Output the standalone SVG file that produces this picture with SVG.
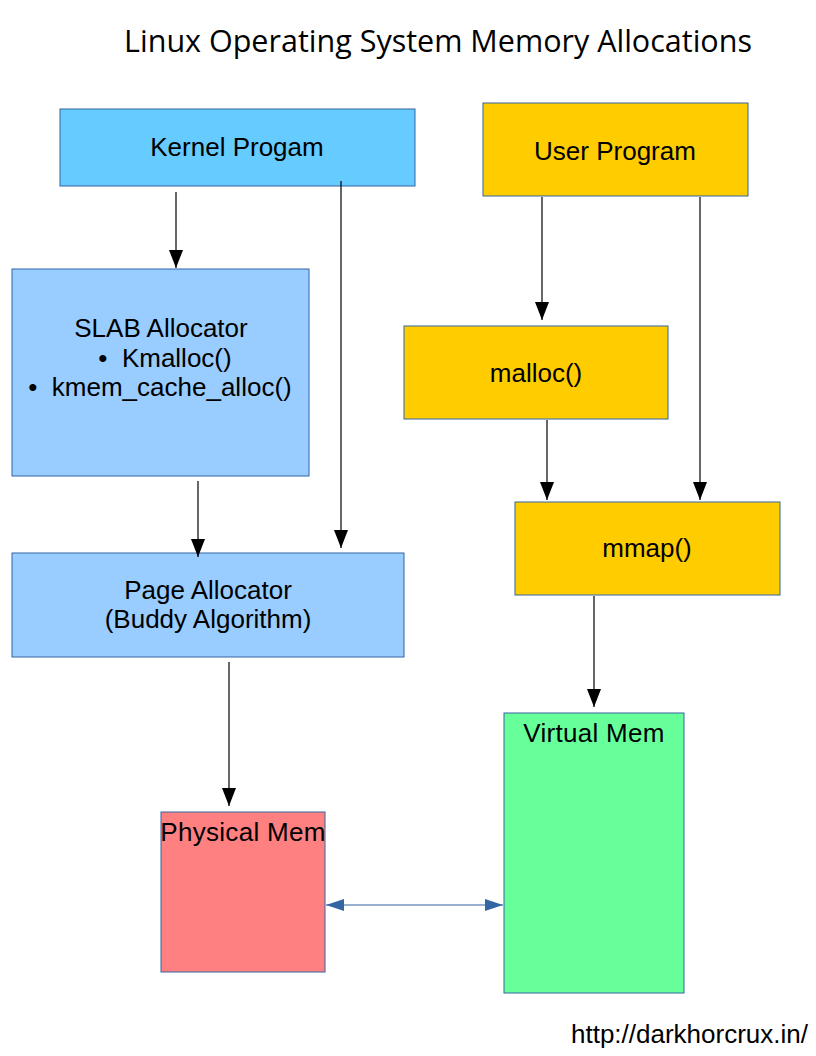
<svg xmlns="http://www.w3.org/2000/svg" width="816" height="1056" viewBox="0 0 816 1056" font-family="'Liberation Sans', Arial, sans-serif">
<style>
.t{font-family:'Liberation Sans', Arial, sans-serif;font-size:26px;fill:#000;text-anchor:middle}
.box{stroke:#3465a4;stroke-width:1}
.c{stroke:#000;stroke-width:1.2;fill:none}
</style>
<defs>
<marker id="ah" markerUnits="userSpaceOnUse" markerWidth="18" markerHeight="14" viewBox="0 0 18 14" refX="18" refY="7" orient="auto">
<path d="M0,0 L18,7 L0,14 Z" fill="#000"/>
</marker>
<marker id="bh" markerUnits="userSpaceOnUse" markerWidth="18" markerHeight="12" viewBox="0 0 18 12" refX="18" refY="6" orient="auto-start-reverse">
<path d="M0,0 L18,6 L0,12 Z" fill="#3465a4"/>
</marker>
</defs>
<rect width="816" height="1056" fill="#fff"/>
<text x="438" y="52" font-family="'Open Sans', Lato, sans-serif" font-size="30.5" text-anchor="middle">Linux Operating System Memory Allocations</text>
<g id="kernel"><rect class="box" x="60" y="109" width="355" height="77" fill="#66ccff"/><text class="t" font-family="'Liberation Sans', Arial, sans-serif" x="237" y="156">Kernel Progam</text></g>
<g id="user"><rect class="box" x="483" y="103" width="265" height="93" fill="#ffcc00"/><text class="t" font-family="'Liberation Sans', Arial, sans-serif" x="615" y="160">User Program</text></g>
<g id="slab"><rect class="box" x="12" y="269" width="297" height="207" fill="#99ccff"/>
<text class="t" font-family="'Liberation Sans', Arial, sans-serif" x="161" y="337">SLAB Allocator</text>
<text class="t" font-family="'Liberation Sans', Arial, sans-serif" x="165" y="367" xml:space="preserve">•  Kmalloc()</text>
<text class="t" font-family="'Liberation Sans', Arial, sans-serif" x="160" y="396" xml:space="preserve">•  kmem_cache_alloc()</text></g>
<g id="malloc"><rect class="box" x="404" y="326" width="264" height="93" fill="#ffcc00"/><text class="t" font-family="'Liberation Sans', Arial, sans-serif" x="536" y="382">malloc()</text></g>
<g id="mmap"><rect class="box" x="515" y="502" width="265" height="93" fill="#ffcc00"/><text class="t" font-family="'Liberation Sans', Arial, sans-serif" x="647" y="557">mmap()</text></g>
<g id="page"><rect class="box" x="12" y="553" width="392" height="104" fill="#99ccff"/>
<text class="t" font-family="'Liberation Sans', Arial, sans-serif" x="208" y="599">Page Allocator</text>
<text class="t" font-family="'Liberation Sans', Arial, sans-serif" x="208" y="628">(Buddy Algorithm)</text></g>
<g id="virtual"><rect class="box" x="504" y="713" width="180" height="280" fill="#66ff99"/><text class="t" font-family="'Liberation Sans', Arial, sans-serif" x="594" y="742" letter-spacing="0.3">Virtual Mem</text></g>
<g id="physical"><rect class="box" x="161" y="812" width="164" height="160" fill="#ff8080"/><text class="t" font-family="'Liberation Sans', Arial, sans-serif" x="243" y="841" letter-spacing="0.3">Physical Mem</text></g>
<g id="connectors">
<line class="c" x1="176" y1="192" x2="176" y2="268" marker-end="url(#ah)"/>
<line class="c" x1="341" y1="181" x2="341" y2="548" marker-end="url(#ah)"/>
<line class="c" x1="542" y1="197" x2="542" y2="320" marker-end="url(#ah)"/>
<line class="c" x1="700" y1="197" x2="700" y2="500" marker-end="url(#ah)"/>
<line class="c" x1="547" y1="420" x2="547" y2="500" marker-end="url(#ah)"/>
<line class="c" x1="198" y1="481" x2="198" y2="557" marker-end="url(#ah)"/>
<line class="c" x1="229" y1="662" x2="229" y2="806" marker-end="url(#ah)"/>
<line class="c" x1="594" y1="596" x2="594" y2="707" marker-end="url(#ah)"/>
<line x1="326" y1="905" x2="503" y2="905" stroke="#3465a4" stroke-width="1.2" marker-start="url(#bh)" marker-end="url(#bh)"/>
</g>
<text x="808" y="1043" font-family="'Liberation Sans', Arial, sans-serif" font-size="26" text-anchor="end">http://darkhorcrux.in/</text>
</svg>
